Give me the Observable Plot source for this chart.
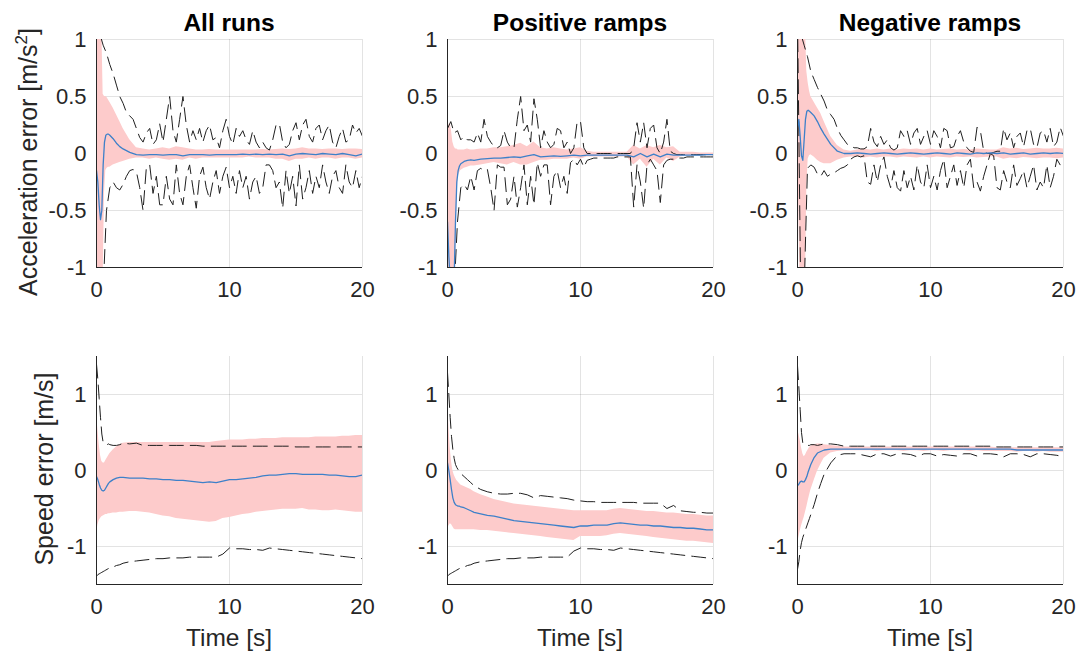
<!DOCTYPE html>
<html><head><meta charset="utf-8">
<script src="https://cdn.jsdelivr.net/npm/d3@7"></script>
<script src="https://cdn.jsdelivr.net/npm/@observablehq/plot@0.6"></script>
<style>
body{margin:0;background:#fff;}
#wrap{position:relative;width:1076px;height:652px;overflow:hidden;background:#fff;font-family:"Liberation Sans",Arial,Helvetica,sans-serif;}
.panel{position:absolute;}
#labels{position:absolute;left:0;top:0;pointer-events:none;}
</style></head><body><div id="wrap"></div>
<script>
// ---------- time grids ----------
const tS = [0,0.1,0.2,0.3,0.4,0.5,0.6,0.7,0.8,0.9,
  1,1.25,1.5,1.75,2,2.5,3,3.5,4,4.5,
  5,5.5,6,6.5,7,7.5,8,8.5,9,9.5,
  10,10.5,11,11.5,12,12.5,13,13.5,14,14.5,
  15,15.5,16,16.5,17,17.5,18,18.5,19,19.5,
  20];
const tJ = [0,0.25,0.5,0.75,1,1.25,1.5,1.75,2,2.25,
  2.5,2.75,3,3.25,3.5,3.75,4,4.25,4.5,4.75,
  5,5.25,5.5,5.75,6,6.25,6.5,6.75,7,7.25,
  7.5,7.75,8,8.25,8.5,8.75,9,9.25,9.5,9.75,
  10,10.25,10.5,10.75,11,11.25,11.5,11.75,12,12.25,
  12.5,12.75,13,13.25,13.5,13.75,14,14.25,14.5,14.75,
  15,15.25,15.5,15.75,16,16.25,16.5,16.75,17,17.25,
  17.5,17.75,18,18.25,18.5,18.75,19,19.25,19.5,19.75,
  20];

// ---------- labels ----------
const columnTitles = ["All runs", "Positive ramps", "Negative ramps"];
const xLabel = "Time [s]";
const xTicks = [0, 10, 20];
const accTicks = [-1, -0.5, 0, 0.5, 1];
const spdTicks = [-1, 0, 1];
const accDomain = [-1, 1];
const spdDomain = [-1.5, 1.5];

// ---------- Acceleration error: All runs ----------
const accAllMean = [-0.15,-0.25,-0.45,-0.58,-0.5,-0.1,0.1,0.16,0.17,0.17,
  0.16,0.13,0.09,0.06,0.04,0.01,-0.01,-0.015,-0.01,-0.01,
  -0.015,-0.01,-0.01,-0.02,-0.01,-0.01,-0.01,-0.015,-0.01,-0.01,
  -0.01,-0.01,-0.005,-0.01,-0.005,-0.01,-0.005,-0.01,-0.005,-0.02,
  -0.005,0,-0.005,-0.01,0,-0.005,-0.01,0,-0.01,-0.02,
  -0.005];
const accAllHi = [0.35,1.2,1.2,1.2,1.1,0.52,0.5,0.5,0.49,0.47,
  0.45,0.4,0.34,0.28,0.22,0.12,0.05,0.04,0.03,0.04,
  0.05,0.04,0.06,0.05,0.04,0.03,0.03,0.035,0.03,0.03,
  0.03,0.03,0.03,0.03,0.03,0.035,0.03,0.035,0.04,0.035,
  0.04,0.05,0.04,0.04,0.035,0.04,0.04,0.035,0.04,0.04,
  0.035];
const accAllLo = [-1.2,-1.2,-1.2,-1.2,-1.2,-1.1,-0.35,-0.15,-0.13,-0.12,
  -0.12,-0.1,-0.09,-0.08,-0.07,-0.05,-0.04,-0.04,-0.05,-0.04,
  -0.05,-0.06,-0.05,-0.06,-0.04,-0.05,-0.04,-0.04,-0.04,-0.04,
  -0.04,-0.04,-0.04,-0.03,-0.04,-0.04,-0.04,-0.05,-0.05,-0.07,
  -0.05,-0.05,-0.04,-0.05,-0.04,-0.04,-0.05,-0.04,-0.04,-0.05,
  -0.04];
const accAllMax = [1.2,1.05,0.95,0.88,0.78,0.7,0.6,0.5,0.44,0.36,
  0.33,0.3,0.22,0.14,0.1,0.18,0.22,0.08,0.12,0.26,
  0.1,0.3,0.5,0.2,0.1,0.3,0.5,0.25,0.1,0.2,
  0.12,0.22,0.1,0.2,0.25,0.12,0.14,0.05,0.2,0.3,
  0.15,0.08,0.22,0.15,0.2,0.12,0.08,0.2,0.1,0.05,
  0.1,0.05,0.03,0.12,0.25,0.26,0.1,0.05,0.08,0.2,
  0.27,0.12,0.25,0.3,0.15,0.1,0.22,0.25,0.12,0.2,
  0.25,0.1,0.05,0.15,0.22,0.1,0.12,0.25,0.18,0.22,
  0.15];
const accAllMin = [-1.3,-1.3,-1.2,-0.5,-0.3,-0.25,-0.3,-0.32,-0.27,-0.2,
  -0.15,-0.14,-0.16,-0.3,-0.5,-0.12,-0.1,-0.35,-0.2,-0.45,
  -0.45,-0.2,-0.4,-0.45,-0.1,-0.35,-0.45,-0.2,-0.1,-0.3,
  -0.48,-0.2,-0.12,-0.3,-0.4,-0.25,-0.15,-0.35,-0.2,-0.12,
  -0.3,-0.2,-0.35,-0.15,-0.3,-0.2,-0.4,-0.25,-0.2,-0.35,
  -0.3,-0.1,-0.1,-0.15,-0.3,-0.25,-0.48,-0.15,-0.35,-0.2,
  -0.46,-0.1,-0.4,-0.3,-0.15,-0.35,-0.2,-0.3,-0.1,-0.25,
  -0.35,-0.2,-0.15,-0.3,-0.35,-0.1,-0.25,-0.3,-0.15,-0.3,
  -0.2];

// ---------- Acceleration error: Positive ramps ----------
const accPosMean = [-0.6,-0.9,-1.1,-1.2,-1.2,-1.1,-0.6,-0.25,-0.15,-0.11,
  -0.09,-0.07,-0.06,-0.055,-0.06,-0.05,-0.045,-0.04,-0.04,-0.035,
  -0.03,-0.035,-0.02,-0.01,-0.03,-0.025,-0.02,-0.025,-0.02,-0.015,
  -0.02,-0.015,-0.015,-0.015,-0.015,-0.015,-0.015,-0.015,-0.03,0,
  -0.03,-0.005,-0.03,-0.005,-0.015,-0.015,-0.015,-0.015,-0.015,-0.01,
  -0.01];
const accPosHi = [0.15,0.25,0.27,0.2,0.1,0.06,0.04,0.04,0.03,0.03,
  0.03,0.03,0.04,0.03,0.03,0.04,0.04,0.05,0.05,0.06,
  0.07,0.09,0.06,0.1,0.05,0.04,0.05,0.04,0.03,0.04,
  0.05,0.02,0.01,0.01,0.01,0.01,0.01,0.01,0.07,0.04,
  0.07,0.05,0.07,0.05,0.06,0.01,0.01,0.01,0.005,0.005,
  0.005];
const accPosLo = [-1.2,-1.2,-1.2,-1.2,-1.2,-1.2,-1.1,-0.4,-0.2,-0.17,
  -0.15,-0.13,-0.12,-0.11,-0.11,-0.1,-0.09,-0.08,-0.09,-0.1,
  -0.08,-0.1,-0.1,-0.08,-0.06,-0.06,-0.05,-0.05,-0.05,-0.04,
  -0.05,-0.03,-0.03,-0.03,-0.03,-0.03,-0.03,-0.03,-0.1,-0.05,
  -0.12,-0.05,-0.1,-0.04,-0.07,-0.03,-0.02,-0.02,-0.02,-0.02,
  -0.02];
const accPosMax = [0.22,0.28,0.18,0.2,0.12,0.15,0.12,0.12,0.1,0.18,
  0.1,0.3,0.15,0.1,0.06,0.05,0.07,0.2,0.1,0.05,
  0.05,0.3,0.5,0.2,0.25,0.1,0.48,0.3,0.05,0.2,
  0.1,0.05,0.08,0.22,0.2,0.05,0.1,0,0.05,0.28,
  0.28,0.05,0,0,0,0,0,0,0,0,
  0,0,0,0,0,0,0.05,0.27,0.1,0.27,
  0.05,0.22,0.25,0.05,0,0.1,0.3,0.02,0,-0.01,
  -0.01,-0.01,-0.01,-0.01,-0.01,-0.01,-0.01,-0.01,-0.01,-0.01,
  -0.01];
const accPosMin = [-1.3,-1.3,-1.2,-0.6,-0.3,-0.27,-0.32,-0.2,-0.32,-0.15,
  -0.13,-0.15,-0.14,-0.3,-0.5,-0.1,-0.12,-0.12,-0.45,-0.4,
  -0.2,-0.47,-0.3,-0.1,-0.45,-0.2,-0.45,-0.08,-0.2,-0.1,
  -0.1,-0.45,-0.2,-0.15,-0.3,-0.2,-0.35,-0.08,-0.05,-0.1,
  -0.05,-0.12,-0.06,-0.05,-0.04,-0.04,-0.04,-0.04,-0.04,-0.04,
  -0.04,-0.03,-0.03,-0.03,-0.03,-0.03,-0.47,-0.1,-0.25,-0.48,
  -0.1,-0.05,-0.1,-0.15,-0.43,-0.1,-0.06,-0.05,-0.05,-0.04,
  -0.04,-0.04,-0.03,-0.03,-0.03,-0.03,-0.03,-0.03,-0.03,-0.03,
  -0.03];

// ---------- Acceleration error: Negative ramps ----------
const accNegMean = [0.23,0.3,0.15,-0.02,-0.06,0.12,0.3,0.37,0.38,0.37,
  0.36,0.33,0.28,0.22,0.17,0.08,0.02,0,0,0.005,
  0,-0.005,0,0.005,0,-0.005,0,0.005,0,-0.005,
  0,0.005,0,-0.005,0.005,0,-0.005,0.005,0,0.005,
  0,0.005,-0.005,0,0.005,-0.005,0,0.005,0,0.005,
  0];
const accNegHi = [0.5,1.2,1.2,1.2,1.2,1.2,1.1,0.72,0.62,0.55,
  0.5,0.45,0.4,0.35,0.28,0.15,0.07,0.03,0.02,0.03,
  0.04,0.03,0.04,0.03,0.04,0.03,0.04,0.035,0.04,0.03,
  0.04,0.03,0.035,0.04,0.03,0.035,0.03,0.04,0.035,0.03,
  0.03,0.05,0.04,0.045,0.035,0.04,0.045,0.04,0.04,0.045,
  0.04];
const accNegLo = [0,-0.5,-1.2,-1.2,-1.2,-1.2,-1.1,-0.3,-0.05,-0.02,
  -0.01,-0.03,-0.06,-0.08,-0.09,-0.09,-0.06,-0.04,-0.03,-0.03,
  -0.04,-0.03,-0.04,-0.03,-0.03,-0.04,-0.03,-0.035,-0.04,-0.03,
  -0.04,-0.03,-0.035,-0.04,-0.03,-0.035,-0.03,-0.04,-0.035,-0.03,
  -0.03,-0.05,-0.04,-0.045,-0.035,-0.04,-0.045,-0.04,-0.04,-0.045,
  -0.04];
const accNegMax = [1.4,1.05,0.95,0.85,0.72,0.65,0.58,0.52,0.46,0.38,
  0.34,0.3,0.22,0.16,0.12,0.08,0.07,0.05,0.05,0.04,
  0.04,0.06,0.22,0.1,0.06,0.15,0.08,0.12,0.05,0.03,
  0.05,0.2,0.15,0.2,0.08,0.18,0.22,0.08,0.15,0.2,
  0.08,0.2,0.15,0.05,0.22,0.2,0.05,0.06,0.15,0.2,
  0.1,0.05,0.02,0.01,0.23,0.2,0.02,0,0,0.01,
  0.02,0.02,0.22,0.12,0.18,0.05,0.15,0.18,0.06,0.2,
  0.22,0.08,0.05,0.18,0.2,0.1,0.22,0.06,0.1,0.23,
  0.15];
const accNegMin = [1.2,-1.3,-1.2,-0.13,-0.1,-0.12,-0.18,-0.2,-0.15,-0.2,
  -0.18,-0.17,-0.15,-0.13,-0.12,-0.1,-0.05,-0.03,-0.02,-0.03,
  -0.02,-0.25,-0.27,-0.1,-0.25,-0.1,-0.03,-0.2,-0.3,-0.15,
  -0.3,-0.33,-0.15,-0.3,-0.2,-0.32,-0.1,-0.25,-0.3,-0.1,
  -0.3,-0.2,-0.32,-0.15,-0.05,-0.3,-0.2,-0.1,-0.28,-0.15,
  -0.3,-0.1,-0.05,-0.3,-0.25,-0.33,-0.2,-0.1,0,-0.02,
  -0.3,-0.32,-0.15,-0.25,-0.3,-0.1,-0.28,-0.22,-0.15,-0.3,
  -0.2,-0.1,-0.32,-0.25,-0.3,-0.1,-0.3,-0.2,-0.05,-0.1,
  -0.05];

// ---------- Speed error: All runs ----------
const spdAllMean = [-0.08,-0.12,-0.18,-0.23,-0.26,-0.27,-0.26,-0.23,-0.2,-0.17,
  -0.15,-0.12,-0.1,-0.09,-0.09,-0.1,-0.1,-0.1,-0.11,-0.11,
  -0.12,-0.12,-0.13,-0.13,-0.14,-0.15,-0.16,-0.15,-0.16,-0.14,
  -0.12,-0.12,-0.11,-0.1,-0.09,-0.07,-0.06,-0.06,-0.05,-0.04,
  -0.04,-0.05,-0.05,-0.05,-0.05,-0.06,-0.06,-0.07,-0.08,-0.08,
  -0.06];
const spdAllHi = [0.73,0.55,0.35,0.2,0.12,0.1,0.1,0.13,0.16,0.19,
  0.22,0.27,0.31,0.34,0.36,0.37,0.37,0.37,0.37,0.37,
  0.37,0.37,0.37,0.37,0.37,0.37,0.37,0.37,0.38,0.39,
  0.4,0.4,0.4,0.41,0.41,0.42,0.42,0.42,0.43,0.43,
  0.43,0.43,0.43,0.44,0.44,0.44,0.44,0.45,0.45,0.46,
  0.46];
const spdAllLo = [-0.85,-0.72,-0.66,-0.63,-0.61,-0.6,-0.59,-0.58,-0.58,-0.57,
  -0.57,-0.56,-0.56,-0.55,-0.55,-0.54,-0.54,-0.55,-0.56,-0.58,
  -0.6,-0.61,-0.63,-0.64,-0.65,-0.66,-0.67,-0.68,-0.67,-0.63,
  -0.62,-0.6,-0.58,-0.57,-0.55,-0.54,-0.53,-0.52,-0.51,-0.51,
  -0.51,-0.5,-0.52,-0.52,-0.53,-0.53,-0.52,-0.53,-0.54,-0.55,
  -0.55];
const spdAllMax = [1.4,1.2,0.95,0.7,0.48,0.37,0.35,0.35,0.34,0.35,
  0.34,0.33,0.33,0.34,0.36,0.35,0.36,0.33,0.33,0.33,
  0.33,0.33,0.33,0.33,0.33,0.33,0.32,0.32,0.32,0.32,
  0.32,0.32,0.32,0.32,0.32,0.32,0.32,0.32,0.32,0.32,
  0.31,0.31,0.31,0.31,0.31,0.31,0.31,0.31,0.31,0.31,
  0.31];
const spdAllMin = [-1.39,-1.37,-1.36,-1.35,-1.34,-1.33,-1.32,-1.31,-1.3,-1.29,
  -1.28,-1.27,-1.25,-1.24,-1.22,-1.2,-1.19,-1.18,-1.17,-1.16,
  -1.16,-1.15,-1.15,-1.15,-1.14,-1.14,-1.14,-1.14,-1.14,-1.1,
  -1.02,-1.03,-1.03,-1.04,-1.04,-1.05,-1.02,-1.03,-1.04,-1.05,
  -1.06,-1.07,-1.08,-1.09,-1.1,-1.11,-1.12,-1.13,-1.14,-1.15,
  -1.16];

// ---------- Speed error: Positive ramps ----------
const spdPosMean = [0.1,0,-0.12,-0.25,-0.36,-0.42,-0.45,-0.46,-0.47,-0.47,
  -0.48,-0.49,-0.51,-0.53,-0.55,-0.57,-0.59,-0.6,-0.62,-0.64,
  -0.66,-0.67,-0.68,-0.69,-0.7,-0.71,-0.72,-0.73,-0.74,-0.75,
  -0.73,-0.73,-0.72,-0.72,-0.72,-0.7,-0.69,-0.7,-0.71,-0.72,
  -0.72,-0.73,-0.73,-0.74,-0.75,-0.75,-0.76,-0.76,-0.77,-0.78,
  -0.78];
const spdPosHi = [1.0,0.6,0.3,0.12,0,-0.06,-0.1,-0.13,-0.15,-0.17,
  -0.19,-0.21,-0.23,-0.25,-0.28,-0.32,-0.35,-0.38,-0.4,-0.42,
  -0.44,-0.45,-0.46,-0.47,-0.48,-0.49,-0.5,-0.51,-0.52,-0.53,
  -0.53,-0.53,-0.53,-0.53,-0.53,-0.51,-0.5,-0.51,-0.52,-0.53,
  -0.54,-0.54,-0.55,-0.56,-0.56,-0.57,-0.58,-0.58,-0.59,-0.6,
  -0.6];
const spdPosLo = [-0.75,-0.73,-0.7,-0.71,-0.74,-0.77,-0.78,-0.78,-0.78,-0.78,
  -0.78,-0.78,-0.78,-0.78,-0.78,-0.79,-0.79,-0.8,-0.81,-0.82,
  -0.83,-0.84,-0.85,-0.86,-0.87,-0.88,-0.89,-0.9,-0.91,-0.92,
  -0.87,-0.87,-0.87,-0.87,-0.86,-0.84,-0.83,-0.84,-0.85,-0.86,
  -0.87,-0.88,-0.89,-0.9,-0.91,-0.92,-0.93,-0.93,-0.94,-0.95,
  -0.96];
const spdPosMax = [1.29,1.0,0.7,0.45,0.28,0.16,0.08,0.04,0.01,-0.02,
  -0.04,-0.08,-0.12,-0.16,-0.2,-0.25,-0.28,-0.3,-0.31,-0.31,
  -0.3,-0.3,-0.32,-0.36,-0.33,-0.34,-0.35,-0.36,-0.37,-0.39,
  -0.4,-0.41,-0.41,-0.42,-0.42,-0.42,-0.42,-0.42,-0.42,-0.43,
  -0.43,-0.43,-0.43,-0.5,-0.46,-0.53,-0.54,-0.55,-0.55,-0.56,
  -0.56];
const spdPosMin = [-1.39,-1.37,-1.36,-1.35,-1.34,-1.33,-1.32,-1.31,-1.3,-1.29,
  -1.28,-1.27,-1.25,-1.24,-1.22,-1.2,-1.19,-1.18,-1.17,-1.16,
  -1.16,-1.15,-1.15,-1.15,-1.14,-1.14,-1.14,-1.14,-1.14,-1.06,
  -1.02,-1.03,-1.03,-1.04,-1.04,-1.05,-1.02,-1.03,-1.04,-1.05,
  -1.06,-1.07,-1.08,-1.09,-1.1,-1.11,-1.12,-1.13,-1.14,-1.15,
  -1.16];

// ---------- Speed error: Negative ramps ----------
const spdNegMean = [-0.2,-0.18,-0.15,-0.14,-0.15,-0.15,-0.12,-0.08,-0.02,0.03,
  0.08,0.17,0.23,0.25,0.27,0.28,0.28,0.28,0.28,0.28,
  0.28,0.28,0.28,0.28,0.28,0.28,0.28,0.28,0.28,0.28,
  0.28,0.28,0.28,0.28,0.28,0.28,0.28,0.28,0.28,0.28,
  0.28,0.28,0.28,0.27,0.27,0.27,0.27,0.27,0.27,0.27,
  0.27];
const spdNegHi = [0.55,0.48,0.4,0.3,0.22,0.18,0.2,0.24,0.27,0.3,
  0.32,0.34,0.35,0.35,0.34,0.33,0.32,0.31,0.31,0.31,
  0.31,0.31,0.31,0.31,0.31,0.31,0.31,0.31,0.31,0.31,
  0.31,0.31,0.31,0.31,0.31,0.31,0.31,0.31,0.31,0.31,
  0.3,0.3,0.3,0.3,0.3,0.3,0.3,0.3,0.3,0.3,
  0.3];
const spdNegLo = [-0.97,-0.88,-0.8,-0.73,-0.67,-0.62,-0.55,-0.48,-0.4,-0.33,
  -0.26,-0.13,-0.01,0.08,0.16,0.23,0.25,0.26,0.26,0.26,
  0.26,0.26,0.25,0.26,0.26,0.26,0.25,0.26,0.26,0.25,
  0.26,0.26,0.25,0.26,0.26,0.26,0.25,0.26,0.25,0.25,
  0.25,0.25,0.25,0.24,0.25,0.25,0.24,0.25,0.24,0.24,
  0.24];
const spdNegMax = [1.38,1.1,0.8,0.5,0.36,0.35,0.34,0.33,0.33,0.33,
  0.34,0.34,0.33,0.34,0.35,0.35,0.34,0.32,0.32,0.32,
  0.32,0.32,0.32,0.32,0.32,0.32,0.32,0.32,0.32,0.32,
  0.32,0.32,0.32,0.32,0.32,0.32,0.32,0.32,0.32,0.32,
  0.31,0.31,0.31,0.31,0.31,0.31,0.31,0.31,0.31,0.31,
  0.31];
const spdNegMin = [-1.3,-1.2,-1.05,-0.95,-0.88,-0.83,-0.78,-0.73,-0.68,-0.63,
  -0.58,-0.45,-0.3,-0.17,-0.05,0.1,0.2,0.22,0.22,0.22,
  0.2,0.18,0.22,0.22,0.19,0.22,0.22,0.21,0.18,0.22,
  0.22,0.19,0.21,0.2,0.19,0.22,0.22,0.19,0.22,0.22,
  0.21,0.18,0.22,0.22,0.21,0.18,0.22,0.22,0.21,0.2,
  0.18];

// ---------- styles ----------
const bandColor = "#fdcbcb";
const meanColor = "#3d80c9";
const dashColor = "#1f1f1f";
const axisColor = "#262626";

const panels = [
  {row:0,col:0,mean:accAllMean,lo:accAllLo,hi:accAllHi,max:accAllMax,min:accAllMin,tD:tJ},
  {row:0,col:1,mean:accPosMean,lo:accPosLo,hi:accPosHi,max:accPosMax,min:accPosMin,tD:tJ},
  {row:0,col:2,mean:accNegMean,lo:accNegLo,hi:accNegHi,max:accNegMax,min:accNegMin,tD:tJ},
  {row:1,col:0,mean:spdAllMean,lo:spdAllLo,hi:spdAllHi,max:spdAllMax,min:spdAllMin,tD:tS},
  {row:1,col:1,mean:spdPosMean,lo:spdPosLo,hi:spdPosHi,max:spdPosMax,min:spdPosMin,tD:tS},
  {row:1,col:2,mean:spdNegMean,lo:spdNegLo,hi:spdNegHi,max:spdNegMax,min:spdNegMin,tD:tS}
];

const colX = [96, 447, 797];
const rowY = [39, 356];
const PW = 266, PH = 228;
const ML = 70, MR = 20, MT = 10, MB = 40;
const wrap = document.getElementById("wrap");

const series = (t, v) => t.map((ti, i) => ({t: ti, v: v[i]})).filter(d => d.v !== undefined);

for (const p of panels) {
  const dom = p.row === 0 ? accDomain : spdDomain;
  const ticks = p.row === 0 ? accTicks : spdTicks;
  const band = tS.map((t, i) => ({t, lo: p.lo[i], hi: p.hi[i]}));
  const chart = Plot.plot({
    width: ML + PW + MR,
    height: MT + PH + MB,
    marginLeft: ML, marginRight: MR, marginTop: MT, marginBottom: MB,
    style: {fontFamily: '"Liberation Sans", Arial, Helvetica, sans-serif', fontSize: "22px", color: axisColor, background: "transparent", overflow: "visible"},
    x: {domain: [0, 20], ticks: xTicks, tickSize: 0, tickPadding: 14, label: null, tickFormat: d => String(d)},
    y: {domain: dom, ticks: ticks, tickSize: 0, tickPadding: 10, label: null, tickFormat: d => String(d)},
    marks: [
      Plot.ruleX(xTicks, {stroke: axisColor, strokeOpacity: 0.13, strokeWidth: 1}),
      Plot.ruleY(ticks, {stroke: axisColor, strokeOpacity: 0.13, strokeWidth: 1}),
      Plot.areaY(band, {x: "t", y1: "lo", y2: "hi", fill: bandColor, clip: true}),
      Plot.lineY(series(p.tD, p.max), {x: "t", y: "v", stroke: dashColor, strokeWidth: 1, strokeDasharray: "14,7", clip: true}),
      Plot.lineY(series(p.tD, p.min), {x: "t", y: "v", stroke: dashColor, strokeWidth: 1, strokeDasharray: "14,7", clip: true}),
      Plot.lineY(series(tS, p.mean), {x: "t", y: "v", stroke: meanColor, strokeWidth: 1.3, clip: true}),
      Plot.ruleX([0], {stroke: axisColor, strokeWidth: 1}),
      Plot.ruleY([dom[0]], {stroke: axisColor, strokeWidth: 1})
    ]
  });
  const div = document.createElement("div");
  div.className = "panel";
  div.style.left = (colX[p.col] - ML) + "px";
  div.style.top = (rowY[p.row] - MT) + "px";
  div.style.width = (ML + PW + MR) + "px";
  div.appendChild(chart);
  wrap.appendChild(div);
}

// ---------- text labels ----------
const ns = "http://www.w3.org/2000/svg";
const svg = document.createElementNS(ns, "svg");
svg.setAttribute("id", "labels");
svg.setAttribute("width", 1076);
svg.setAttribute("height", 652);
svg.style.fontFamily = '"Liberation Sans", Arial, Helvetica, sans-serif';
function addText(x, y, txt, opts = {}) {
  const t = document.createElementNS(ns, "text");
  t.setAttribute("x", x); t.setAttribute("y", y);
  t.setAttribute("text-anchor", "middle");
  t.setAttribute("font-size", opts.size || 24.5);
  if (opts.bold) t.setAttribute("font-weight", "bold");
  t.setAttribute("fill", opts.fill || axisColor);
  if (opts.transform) t.setAttribute("transform", opts.transform);
  t.textContent = txt;
  svg.appendChild(t);
  return t;
}
columnTitles.forEach((title, i) => {
  addText(colX[i] + PW / 2, 31, title, {bold: true, fill: "#000"});
  addText(colX[i] + PW / 2, 646, xLabel);
});
// y label for acceleration with superscript
const accLab = document.createElementNS(ns, "text");
accLab.setAttribute("transform", "translate(37,162) rotate(-90)");
accLab.setAttribute("text-anchor", "middle");
accLab.setAttribute("font-size", 25);
accLab.setAttribute("fill", axisColor);
const s1 = document.createElementNS(ns, "tspan"); s1.textContent = "Acceleration error [m/s";
const s2 = document.createElementNS(ns, "tspan"); s2.textContent = "2"; s2.setAttribute("dy", -10); s2.setAttribute("font-size", 17);
const s3 = document.createElementNS(ns, "tspan"); s3.textContent = "]"; s3.setAttribute("dy", 10);
accLab.append(s1, s2, s3);
svg.appendChild(accLab);
addText(0, 0, "Speed error [m/s]", {transform: "translate(53,469) rotate(-90)", size: 25});
wrap.appendChild(svg);
</script>
</body></html>
